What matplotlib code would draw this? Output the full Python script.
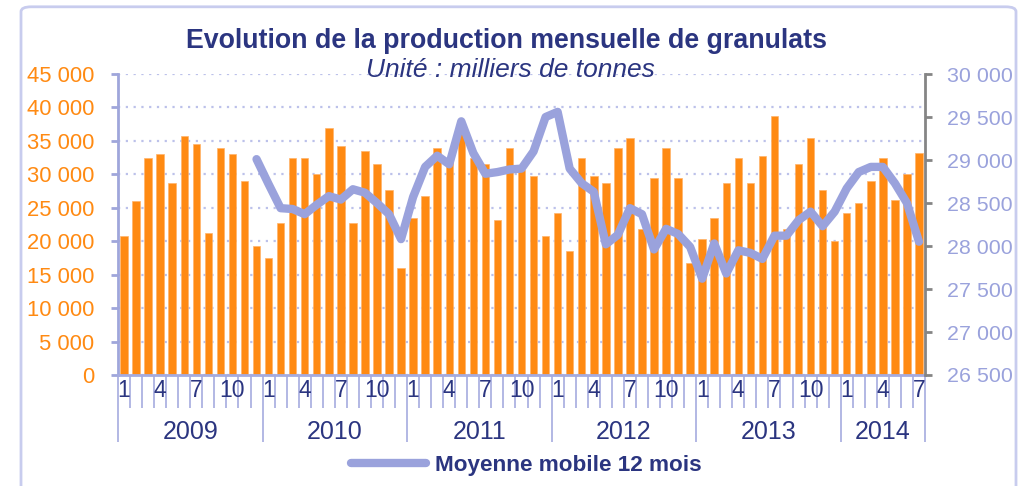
import numpy as np
import matplotlib
matplotlib.use("Agg")
import matplotlib.pyplot as plt
from matplotlib.ticker import FuncFormatter
from matplotlib.patches import FancyBboxPatch
from matplotlib.lines import Line2D

plt.rcParams['font.family'] = ['Liberation Sans', 'DejaVu Sans']

# production mensuelle (milliers de tonnes), janv. 2009 -> juil. 2014
prod_2009 = [20800, 26000, 32400, 33100, 28700, 35700, 34600, 21200, 33900, 33100, 29000, 19300]
prod_2010 = [17500, 22700, 32400, 32400, 30100, 36900, 34200, 22700, 33500, 31600, 27600, 16000]
prod_2011 = [23400, 26800, 33900, 32500, 36200, 32400, 31600, 23100, 33900, 30700, 29700, 20800]
prod_2012 = [24200, 18600, 32400, 29700, 28700, 33900, 35400, 21900, 29400, 33900, 29400, 16700]
prod_2013 = [20400, 23400, 28700, 32400, 28700, 32800, 38700, 21900, 31600, 35400, 27600, 20100]
prod_2014 = [24200, 25700, 29000, 32400, 26100, 30100, 33200]

# moyenne mobile 12 mois, de dec. 2009 a juil. 2014
mm_start = 11
moy_mobile = [29010,
              28720, 28440, 28430, 28370, 28480, 28580, 28540, 28660, 28620, 28500, 28370, 28080,
              28570, 28920, 29050, 28950, 29450, 29080, 28840, 28860, 28890, 28900, 29100, 29500,
              29560, 28900, 28730, 28630, 28020, 28130, 28440, 28370, 27960, 28200, 28140, 27990,
              27620, 28030, 27680, 27950, 27920, 27850, 28120, 28120, 28300, 28400, 28230, 28400,
              28670, 28860, 28920, 28920, 28730, 28500, 28050]

years = ['2009', '2010', '2011', '2012', '2013', '2014']
year_data = [prod_2009, prod_2010, prod_2011, prod_2012, prod_2013, prod_2014]
month_labels = {1: '1', 4: '4', 7: '7', 10: '10'}

ORANGE = '#FF8A12'
LAVENDER = '#9AA2DC'
NAVY = '#2B3580'
GRID = '#BCC1EA'

prod = np.concatenate(year_data)
x = np.arange(len(prod))

fig = plt.figure(figsize=(10.28, 4.86), dpi=100)
ax = fig.add_axes([0.1148, 0.2284, 0.785, 0.6193])
ax2 = ax.twinx()

ax.bar(x, prod, width=0.62, color=ORANGE, edgecolor='#FFB46A', linewidth=0.5, zorder=2)
ax.set_xlim(-0.5, len(prod) - 0.5)
ax.set_ylim(0, 45000)
ax.set_yticks(np.arange(0, 45001, 5000))
fmt = FuncFormatter(lambda v, p: f"{int(v):,}".replace(',', ' '))
ax.yaxis.set_major_formatter(fmt)
ax.set_axisbelow(True)
ax.grid(axis='y', linestyle=(0, (1, 2.5)), color=GRID, linewidth=1.6)

mm_x = np.arange(mm_start, mm_start + len(moy_mobile))
ax2.plot(mm_x, moy_mobile, color=LAVENDER, linewidth=6, solid_joinstyle='round',
         solid_capstyle='round', zorder=3)
ax2.set_ylim(26500, 30000)
ax2.set_yticks(np.arange(26500, 30001, 500))
ax2.yaxis.set_major_formatter(fmt)

# axes style
for a in (ax, ax2):
    a.spines['top'].set_visible(False)
ax.spines['left'].set_color('#9FA6DB')
ax.spines['left'].set_linewidth(2)
ax.spines['bottom'].set_color('#A5ABDF')
ax.spines['bottom'].set_linewidth(2)
ax.spines['right'].set_visible(False)
ax2.spines['left'].set_visible(False)
ax2.spines['bottom'].set_visible(False)
ax2.spines['right'].set_color('#858585')
ax2.spines['right'].set_linewidth(2)

ax.tick_params(axis='y', colors='#9FA6DB', labelcolor=ORANGE, labelsize=15.8,
               length=5, width=2, pad=12)
ax2.tick_params(axis='y', colors='#858585', labelcolor=LAVENDER, labelsize=15.4,
                length=5, width=2, pad=11)

# category axis: month separators and year separators
year_bounds = [-0.5]
for d in year_data:
    year_bounds.append(year_bounds[-1] + len(d))
ax.set_xticks(x - 0.5, minor=True)
ax.set_xticks(year_bounds)
ax.set_xticklabels([])
ax.tick_params(axis='x', which='minor', length=24, width=1.2, color='#A5ABDF')
ax.tick_params(axis='x', which='major', length=48, width=1.2, color='#A5ABDF')

trans = ax.get_xaxis_transform()
i = 0
for yr, d in zip(years, year_data):
    for m in range(1, len(d) + 1):
        if m in month_labels:
            ax.text(i + m - 1, -0.05, month_labels[m], transform=trans, ha='center',
                    va='center', fontsize=16.5, color=NAVY)
    ax.text(i + (len(d) - 1) / 2, -0.19, yr, transform=trans, ha='center', va='center',
            fontsize=18, color=NAVY)
    i += len(d)

fig.text(0.493, 0.915, 'Evolution de la production mensuelle de granulats', ha='center',
         va='center', fontsize=19.3, fontweight='bold', color=NAVY)
fig.text(0.497, 0.856, 'Unité : milliers de tonnes', ha='center', va='center',
         fontsize=19, style='italic', color=NAVY)

handle = Line2D([], [], color=LAVENDER, linewidth=6, solid_capstyle='round')
fig.legend([handle], ['Moyenne mobile 12 mois'], loc='center', bbox_to_anchor=(0.512, 0.042),
           frameon=False, handlelength=3.3, handletextpad=0.4,
           prop={'size': 16.2, 'weight': 'bold'}, labelcolor=NAVY)

# cadre exterieur
frame = FancyBboxPatch((21 / 1028, -0.1), 995 / 1028, 1.086, boxstyle='round,pad=0,rounding_size=0.01',
                       transform=fig.transFigure, fill=False, edgecolor='#C8CCEE', linewidth=2,
                       clip_on=False)
fig.patches.append(frame)

fig.savefig('out.png', dpi=100)
